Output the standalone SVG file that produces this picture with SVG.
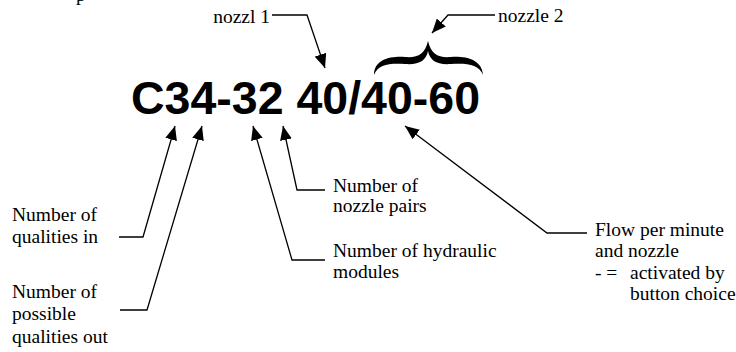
<svg xmlns="http://www.w3.org/2000/svg" width="736" height="352" viewBox="0 0 736 352">
<style>
.lbl{font-family:"Liberation Serif","Times New Roman",serif;font-size:19.5px;fill:#000}
.code{font-family:"Liberation Sans",Arial,sans-serif;font-weight:bold;font-size:46.5px;fill:#000}
.ln{fill:none;stroke:#000;stroke-width:1.3}
</style>
<defs>
<marker id="ah" markerUnits="userSpaceOnUse" markerWidth="15" markerHeight="12" viewBox="0 0 15 12" refX="14" refY="6" orient="auto">
<path d="M0,0 L14,6 L0,12 z" fill="#000"/>
</marker>
</defs>
<rect width="736" height="352" fill="#fff"/>
<text class="lbl" x="76" y="0.5">p</text>
<g id="code"><text class="code" x="131" y="114">C34-32 40/40-60</text></g>
<g id="brace"><path d="M374,75 C374,59 391,56 405,57 C418,58 425,54 428,41 C431,54 438,58 451,57 C465,56 482,59 483,75 C479,64 466,63 451,64 C437,65 430,61 428,51 C426,61 419,65 405,64 C390,63 378,64 374,75 Z" fill="#000"/></g>
<g id="n-nozzl1"><text class="lbl" x="270" y="23" text-anchor="end">nozzl 1</text></g>
<g id="n-nozzle2"><text class="lbl" x="498" y="22">nozzle 2</text></g>
<g id="n-qin"><text class="lbl" x="12" y="221">Number of</text><text class="lbl" x="12" y="243">qualities in</text></g>
<g id="n-qout"><text class="lbl" x="12" y="298">Number of</text><text class="lbl" x="12" y="320">possible</text><text class="lbl" x="12" y="343">qualities out</text></g>
<g id="n-pairs"><text class="lbl" x="333" y="192">Number of</text><text class="lbl" x="333" y="212">nozzle pairs</text></g>
<g id="n-modules"><text class="lbl" x="333" y="257">Number of hydraulic</text><text class="lbl" x="333" y="278">modules</text></g>
<g id="n-flow"><text class="lbl" x="595" y="236">Flow per minute</text><text class="lbl" x="595" y="257">and nozzle</text><text class="lbl" x="595" y="279">- =</text><text class="lbl" x="630" y="279">activated by</text><text class="lbl" x="630" y="300">button choice</text></g>
<g id="connectors">
<polyline class="ln" points="272,15 307,15 325,68" marker-end="url(#ah)"/>
<polyline class="ln" points="495,15 448,15 432,33" marker-end="url(#ah)"/>
<polyline class="ln" points="119,237 143,237 175,126" marker-end="url(#ah)"/>
<polyline class="ln" points="120,310 147,310 202,126" marker-end="url(#ah)"/>
<polyline class="ln" points="325,190 297,190 283,126" marker-end="url(#ah)"/>
<polyline class="ln" points="325,260 292,260 253,126" marker-end="url(#ah)"/>
<polyline class="ln" points="587,233 547,233 405,126" marker-end="url(#ah)"/>
</g>
</svg>
